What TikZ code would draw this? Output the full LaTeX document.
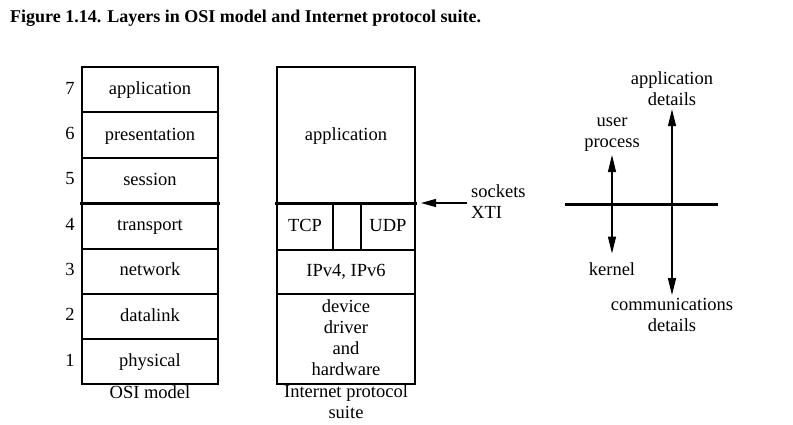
\documentclass[tikz,border=0pt]{standalone}
\usepackage{fontspec}
\setmainfont{Liberation Serif}
\usetikzlibrary{arrows.meta}
\tikzset{
    layer/.style = {font = \fontsize{18.5}{21}\selectfont, inner sep = 0pt},
    oneline/.style = {text height = 12.5pt, text depth = 4pt},
    thinline/.style = {line width = 1.2pt},
    thickline/.style = {line width = 3pt},
    head/.style = {-{Triangle[length = 15pt, width = 8pt]}, line width = 1.2pt},
    tip/.style = {{Triangle[length = 17pt, width = 8pt]}-{Triangle[length = 17pt, width = 8pt]}, line width = 1.2pt}
}
\begin{document}
\begin{tikzpicture}[x = 1pt, y = -1pt]
        \useasboundingbox (0,0) rectangle (793,424);
        \node[anchor = west, inner sep = 0pt, font = \fontsize{18}{20}\selectfont\bfseries] (title) at (10,18) {Figure 1.14. Layers in OSI model and Internet protocol suite.};
        % OSI model
        \draw[thinline] (82,67) rectangle (218,384);
        \foreach \y in {112,158,249,294,339}
            \draw[thinline] (82,\y) -- (218,\y);
        \draw[thickline] (80,203) -- (220,203);
        \begin{scope}[every node/.append style = {layer, oneline}]
            \foreach \n/\name [count = \i from 0] in {7/application,6/presentation,5/session,4/transport,3/network,2/datalink,1/physical} {
                \node (osi\n) at (150,{90.5 + 45.3*\i}) {\name};
                \node (num\n) at (70,{90 + 45.3*\i}) {\n};
            }
            \node (osicap) at (150,394) {OSI model};
        \end{scope}
        % Internet protocol suite
        \draw[thinline] (277,67) rectangle (415,384);
        \draw[thinline] (333,203) -- (333,250);
        \draw[thinline] (361,203) -- (361,250);
        \draw[thinline] (277,250) -- (415,250);
        \draw[thinline] (277,294) -- (415,294);
        \draw[thickline] (275,203) -- (417,203);
        \begin{scope}[every node/.append style = {layer}]
            \node[oneline] (app) at (346,136) {application};
            \node[oneline] (tcp) at (305,227) {TCP};
            \node[oneline] (udp) at (388,227) {UDP};
            \node[oneline] (ip) at (346,272) {IPv4, IPv6};
            \node[align = center] (dev) at (346,338) {device\\driver\\and\\hardware};
            \node[align = center] (inetcap) at (346,402) {Internet protocol\\suite};
            \node[align = left, anchor = west] (sock) at (471,202) {sockets\\XTI};
        \end{scope}
        \coordinate (sockstart) at (467,203);
        \coordinate (sockend) at (421,203);
        \draw[head] (sockstart) -- (sockend);
        % user process / kernel
        \draw[thickline] (565,204) -- (718,204);
        \begin{scope}[every node/.append style = {layer, align = center}]
            \node (appdet) at (672,89) {application\\details};
            \node (user) at (612,135) {user\\process};
            \node[oneline] (kern) at (612,271) {kernel};
            \node (comdet) at (672,315) {communications\\details};
        \end{scope}
        \draw[tip] ([yshift = -3pt]user.south) -- ([yshift = 9pt]kern.north);
        \draw[tip] ([yshift = -3pt]appdet.south) -- ([yshift = 3pt]comdet.north);
    \end{tikzpicture}
\end{document}
